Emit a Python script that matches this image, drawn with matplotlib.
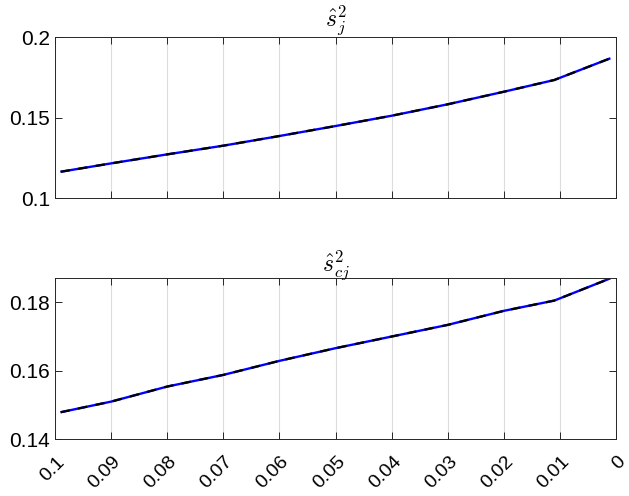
import matplotlib.pyplot as plt
import matplotlib.transforms as mtransforms

# data (x axis reversed, 0.1 -> 0)
x_vals = [0.099, 0.09, 0.08, 0.07, 0.06, 0.05, 0.04, 0.03, 0.02, 0.011, 0.001]
s_j = [0.1163, 0.1215, 0.1271, 0.1325, 0.1385, 0.1447, 0.1511, 0.1582, 0.1660, 0.1733, 0.1868]
s_cj = [0.1479, 0.1510, 0.1554, 0.1588, 0.1629, 0.1666, 0.1700, 0.1734, 0.1775, 0.1805, 0.1870]

x_ticks = [0.1, 0.09, 0.08, 0.07, 0.06, 0.05, 0.04, 0.03, 0.02, 0.01, 0]
x_ticklabels = ["0.1", "0.09", "0.08", "0.07", "0.06", "0.05", "0.04", "0.03", "0.02", "0.01", "0"]

plt.rcParams['font.family'] = ['Liberation Sans', 'DejaVu Sans']
plt.rcParams['mathtext.fontset'] = 'cm'

fig = plt.figure(figsize=(6.29, 4.96), dpi=100)
ax1 = fig.add_axes([0.0874, 0.6008, 0.892, 0.3246])
ax2 = fig.add_axes([0.0874, 0.1143, 0.892, 0.3246])

panels = [
    (ax1, s_j, r'$\hat{s}_j^2$', (0.1, 0.2), [0.1, 0.15, 0.2], ["0.1", "0.15", "0.2"]),
    (ax2, s_cj, r'$\hat{s}_{cj}^2$', (0.14, 0.187), [0.14, 0.16, 0.18], ["0.14", "0.16", "0.18"]),
]

edge = '#262626'
for ax, y, title, ylim, yt, ytl in panels:
    ax.plot(x_vals, y, color='blue', lw=1.7, solid_capstyle='butt')
    ax.plot(x_vals, y, color='black', lw=1.6, dashes=(4.2, 3.8))
    ax.set_xlim(0.1, 0)
    ax.set_ylim(*ylim)
    ax.set_xticks(x_ticks)
    ax.set_yticks(yt)
    ax.set_yticklabels(ytl)
    ax.grid(True, axis='x', color='#dcdcdc', lw=0.8)
    ax.set_axisbelow(True)
    ax.tick_params(direction='in', length=5, width=0.7, colors=edge,
                   top=True, right=True, labelsize=15, labelcolor='black')
    for sp in ax.spines.values():
        sp.set_color(edge)
        sp.set_linewidth(0.7)
    ax.set_title(title, fontsize=17, pad=5)

ax1.set_xticklabels([])
ax2.set_xticklabels(x_ticklabels, rotation=45, ha='right', rotation_mode='anchor', fontsize=14)
shift = mtransforms.ScaledTranslation(1 / 100, -9 / 100, fig.dpi_scale_trans)
for lbl in ax2.get_xticklabels():
    lbl.set_transform(lbl.get_transform() + shift)

plt.savefig('out.png', dpi=100)
